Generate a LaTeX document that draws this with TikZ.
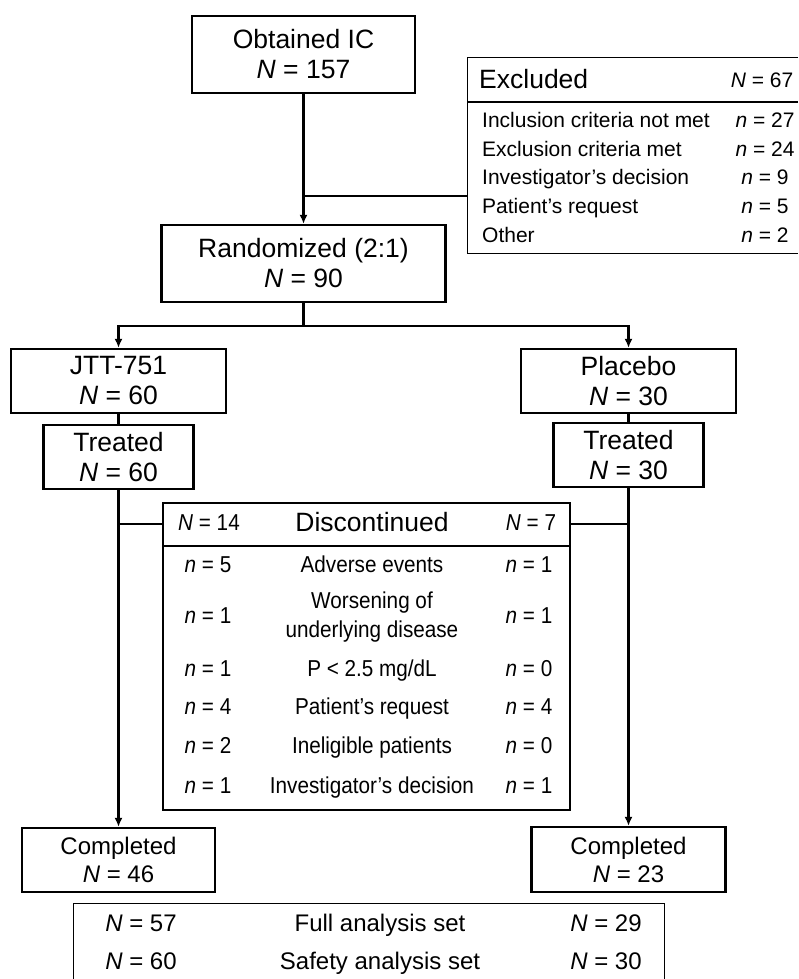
\documentclass[tikz,border=0pt]{standalone}
\usepackage{fontspec}
\setmainfont{Liberation Sans}
\newfontfamily\discfont{Liberation Sans}[Ligatures=TeX, FakeStretch=0.9]
\usetikzlibrary{arrows.meta}
\newcommand{\mainsize}{\fontsize{26.5}{30}\selectfont}
\newcommand{\compsize}{\fontsize{24}{28}\selectfont}
\newcommand{\rowsize}{\fontsize{21}{29}\selectfont}
\newcommand{\discsize}{\discfont\fontsize{23}{29}\selectfont}
\tikzset{
  flowbox/.style={draw, line width=2.3pt, inner sep=0pt, align=center, font=\mainsize},
  flowline/.style={line width=2.3pt},
  flowarrow/.style={line width=2.3pt, -{Latex[length=9pt,width=8pt]}},
  thinline/.style={line width=1.3pt},
  rowtext/.style={font=\rowsize, inner sep=0pt, text height=15pt, text depth=4pt},
  disctext/.style={font=\discsize, inner sep=0pt, text height=17pt, text depth=5pt},
  settext/.style={font=\compsize, inner sep=0pt, text height=17pt, text depth=5pt},
}

\begin{document}
\begin{tikzpicture}[x=1pt, y=-1pt]
          \useasboundingbox (0,0) rectangle (798,979);

          % top part
          \node[flowbox, minimum width=223pt, minimum height=77pt] (ObtainedIC) at (303.5,54.5) {Obtained IC\\\textit{N} = 157};
          \node[flowbox, minimum width=284pt, minimum height=77pt] (Randomized) at (303.5,263.5) {Randomized (2:1)\\\textit{N} = 90};
          \draw[flowarrow] (ObtainedIC) to (Randomized);

          \node[inner sep=0pt, minimum width=330pt, minimum height=195pt] (Excluded) at (633,155.5) {};
          \draw[thinline] (Excluded.north east) -- (Excluded.north west) -- (Excluded.south west) -- (Excluded.south east);
          \draw[thinline] (Excluded.west |- 0,102) -- (Excluded.east |- 0,102);
          \node[anchor=west, font=\mainsize, inner sep=0pt, text height=19pt, text depth=5pt] (ExclTitle) at (479,82) {Excluded};
          \node[rowtext] (ExclTotal) at (762,82) {\textit{N} = 67};
          \foreach \reason/\count [count=\i] in {Inclusion criteria not met/27, Exclusion criteria met/24, Investigator's decision/9, Patient's request/5, Other/2}
            {
            \node[rowtext, anchor=west] (ExclReason\i) at (482,93+28.8*\i) {\reason};
            \node[rowtext] (ExclCount\i) at (765,93+28.8*\i) {\textit{n} = \count};
            }
          \coordinate (ExclJoin) at (303.5,196);
          \draw[thinline] (ExclJoin) -- (ExclJoin -| Excluded.west);

          % arms
          \node[flowbox, minimum width=215pt, minimum height=64pt] (JTT) at (118.5,381) {JTT-751\\\textit{N} = 60};
          \node[flowbox, minimum width=215pt, minimum height=64pt] (Placebo) at (628.5,381) {Placebo\\\textit{N} = 30};
          \coordinate (Split) at (303.5,326);
          \draw[flowline] (Randomized) to (Split);
          \draw[flowarrow] (Split) -| (JTT.north);
          \draw[flowarrow] (Split) -| (Placebo.north);

          \node[flowbox, minimum width=150pt, minimum height=64pt] (TreatedJTT) at (118.5,457) {Treated\\\textit{N} = 60};
          \node[flowbox, minimum width=150pt, minimum height=64pt] (TreatedPlacebo) at (628.5,455) {Treated\\\textit{N} = 30};
          \draw[flowline] (JTT) to (TreatedJTT);
          \draw[flowline] (Placebo) to (TreatedPlacebo);

          % discontinued
          \node[draw, line width=1.5pt, inner sep=0pt, minimum width=407pt, minimum height=307pt] (Discontinued) at (366.5,656.5) {};
          \draw[line width=1.5pt] (Discontinued.west |- 0,546) -- (Discontinued.east |- 0,546);
          \node[disctext] (DiscJTT) at (209,524) {\textit{N} = 14};
          \node[font=\mainsize, inner sep=0pt, text height=19pt, text depth=5pt] (DiscTitle) at (372,524) {Discontinued};
          \node[disctext] (DiscPlacebo) at (531,524) {\textit{N} = 7};
          \foreach \left/\reason/\right/\y [count=\i] in {5/Adverse events/1/566, 1/{}/1/617, 1/{P < 2.5 mg/dL}/0/670, 4/Patient's request/4/708, 2/Ineligible patients/0/747, 1/Investigator's decision/1/787}
            {
            \node[disctext] (DiscLeft\i) at (208,\y) {\textit{n} = \left};
            \node[disctext] (DiscReason\i) at (372,\y) {\reason};
            \node[disctext] (DiscRight\i) at (529,\y) {\textit{n} = \right};
            }
          \node[font=\discsize, align=center, inner sep=0pt] (DiscWorsening) at (372,617) {Worsening of\\underlying disease};

          % completed
          \node[flowbox, font=\compsize, minimum width=193pt, minimum height=64pt] (CompletedJTT) at (118.5,860) {Completed\\\textit{N} = 46};
          \node[flowbox, font=\compsize, minimum width=194pt, minimum height=65pt] (CompletedPlacebo) at (628.5,859.5) {Completed\\\textit{N} = 23};
          \draw[flowarrow] (TreatedJTT) to (CompletedJTT);
          \draw[flowarrow] (TreatedPlacebo) to (CompletedPlacebo);
          \draw[thinline] (DiscTitle -| TreatedJTT) -- (DiscTitle -| Discontinued.west);
          \draw[thinline] (DiscTitle -| Discontinued.east) -- (DiscTitle -| TreatedPlacebo);

          % analysis sets
          \node[inner sep=0pt, minimum width=590pt, minimum height=76pt] (Sets) at (369,942) {};
          \draw[thinline] (Sets.south west) -- (Sets.north west) -- (Sets.north east) -- (Sets.south east);
          \foreach \left/\set/\right/\y [count=\i] in {57/Full analysis set/29/925, 60/Safety analysis set/30/963}
            {
            \node[settext] (SetLeft\i) at (141,\y) {\textit{N} = \left};
            \node[settext] (SetName\i) at (380,\y) {\set};
            \node[settext] (SetRight\i) at (606,\y) {\textit{N} = \right};
            }
        \end{tikzpicture}
\end{document}
